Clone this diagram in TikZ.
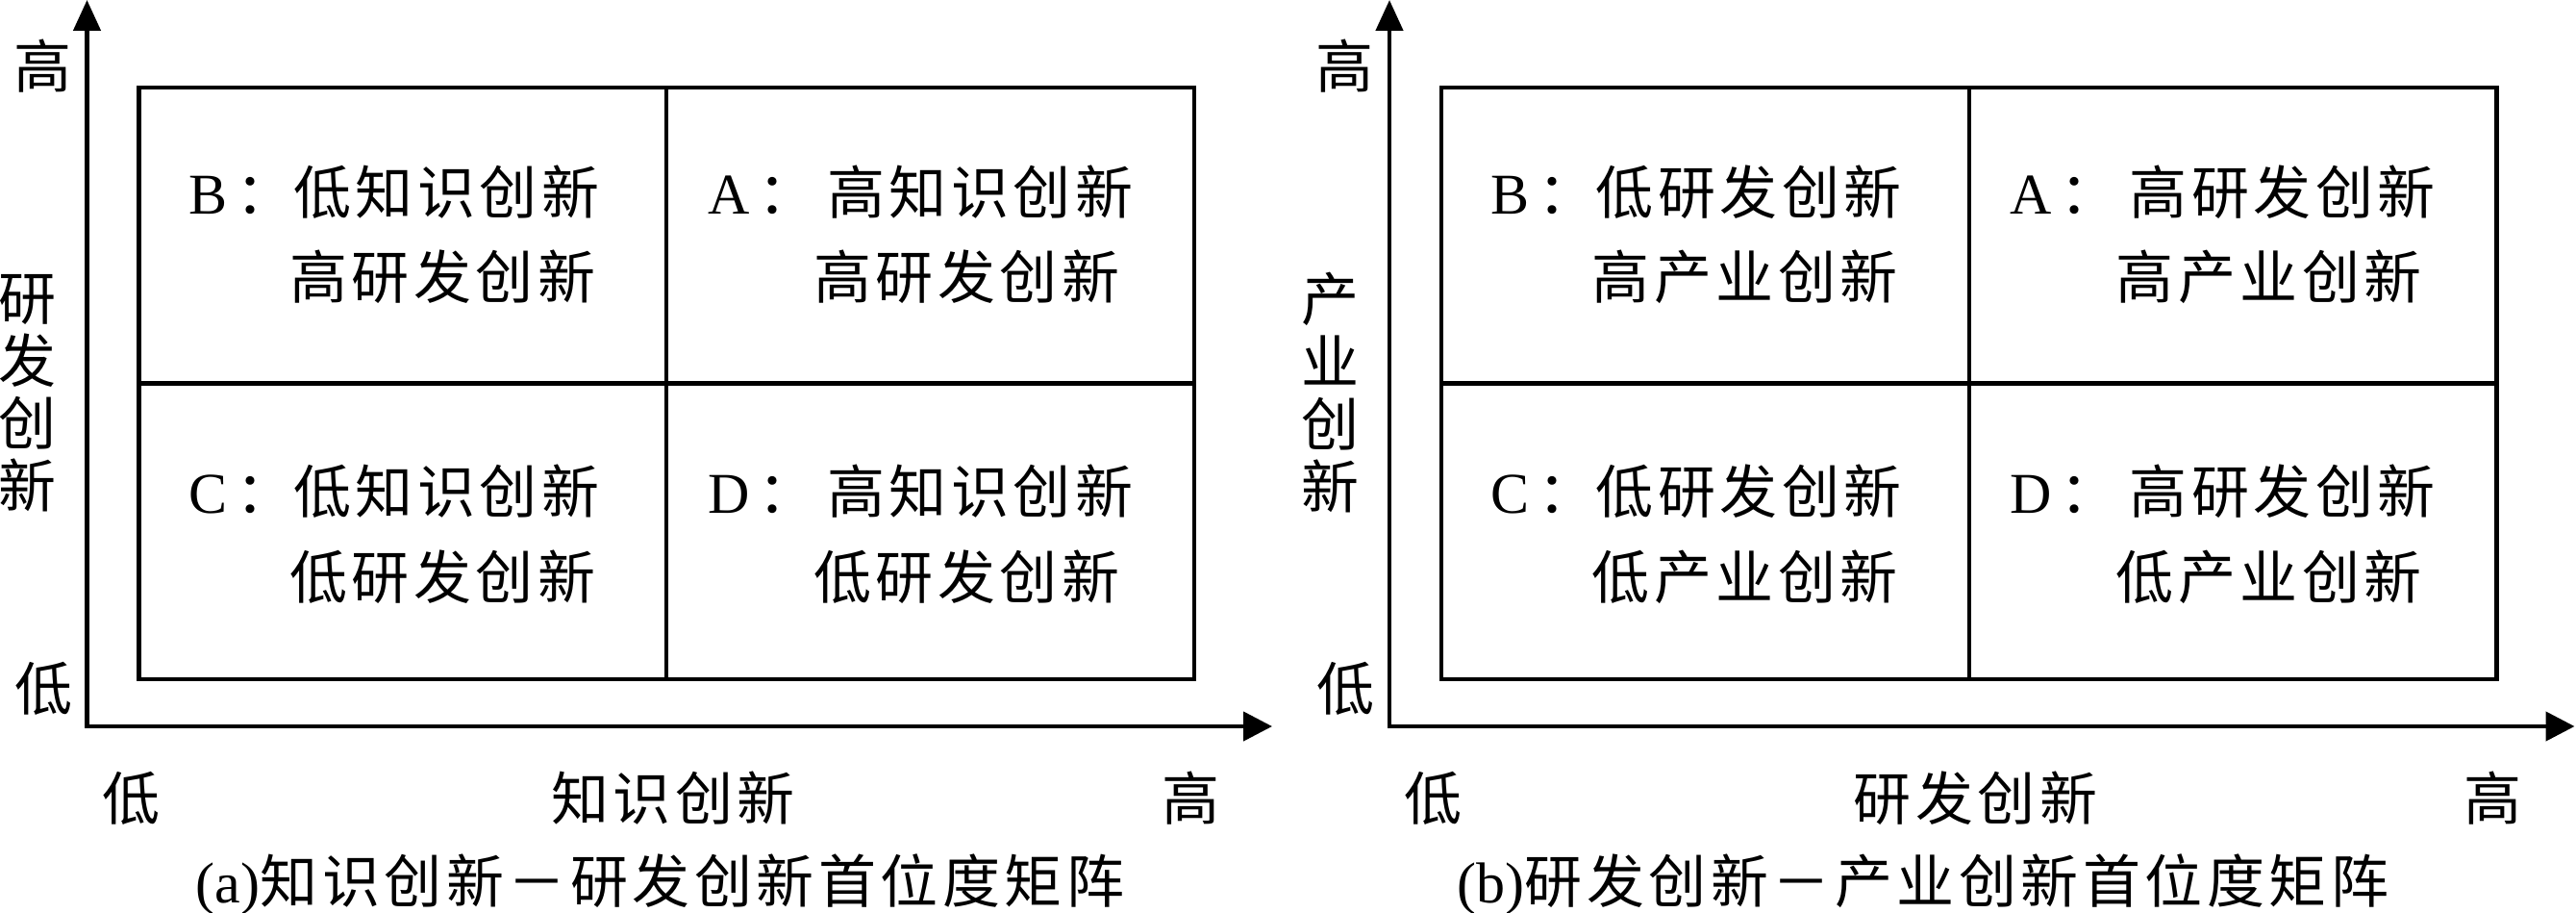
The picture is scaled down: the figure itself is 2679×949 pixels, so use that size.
\documentclass[tikz,border=0pt]{standalone}
\usepackage{fontspec}
\setmainfont{Liberation Serif}
\newfontfamily\cjk{Noto Sans CJK SC}
\usetikzlibrary{arrows.meta}
\newlength\chgap \setlength\chgap{4.5pt}
\def\chs#1{{\cjk\chsA#1\relax}}
\def\chsA#1{#1\chsB}
\def\chsB#1{\ifx#1\relax\else\kern\chgap#1\expandafter\chsB\fi}
\newcommand\qcolon{\kern9pt{\cjk ：}}
\tikzset{
  every node/.style={inner sep=0pt, outer sep=0pt},
  lat/.style={font=\fontsize{60pt}{65pt}\selectfont},
  cjkt/.style={font=\fontsize{60pt}{65pt}\selectfont\cjk},
  cell/.style={lat, anchor=base west},
  quad/.style={draw, line width=4.3pt, minimum width=1097.5pt, minimum height=615pt},
  divider/.style={line width=4.3pt},
  axis/.style={line width=4.5pt, line join=miter,
    {Triangle[length=32pt,width=28pt]}-{Triangle[length=30pt,width=30pt]}},
}
\begin{document}
\begin{tikzpicture}[x=1pt,y=-1pt]
\useasboundingbox (0,0) rectangle (2679,949);
% ---------- panel (a) ----------
\coordinate (ya) at (90.5,0);
\coordinate (oa) at (90.5,755);
\coordinate (xa) at (1323,755);
\draw[axis] (ya) -- (oa) -- (xa);
\node[quad] (qa) at (693.25,398.5) {};
\draw[divider] (qa.north) -- (qa.south);
\draw[divider] (qa.west) -- (qa.east);
\node[cell] (aBl) at (196,223) {B\qcolon};
\node[cell] (aB1) at (305,223) {\chs{低知识创新}};
\node[cell] (aB2) at (301,311) {\chs{高研发创新}};
\node[cell] (aAl) at (736,223) {A\qcolon};
\node[cell] (aA1) at (860,223) {\chs{高知识创新}};
\node[cell] (aA2) at (846,311) {\chs{高研发创新}};
\node[cell] (aCl) at (196,533) {C\qcolon};
\node[cell] (aC1) at (305,533) {\chs{低知识创新}};
\node[cell] (aC2) at (301,622) {\chs{低研发创新}};
\node[cell] (aDl) at (736,533) {D\qcolon};
\node[cell] (aD1) at (860,533) {\chs{高知识创新}};
\node[cell] (aD2) at (846,622) {\chs{低研发创新}};
\node[cjkt] (ayh) at (44,69) {高};
\node[cjkt] (ayl) at (45,716) {低};
\node[cjkt, align=center] (ayt) at (28.5,408.5) {研\\发\\创\\新};
\node[cjkt] (axl) at (136,830) {低};
\node[cjkt] (axt) at (700,830) {\chs{知识创新}};
\node[cjkt] (axh) at (1238,830) {高};
\node[lat, anchor=base] (capa) at (686.5,938) {(a)\chs{知识创新－研发创新首位度矩阵}};
% ---------- panel (b) ----------
\coordinate (yb) at (1445,0);
\coordinate (ob) at (1445,755);
\coordinate (xb) at (2677.5,755);
\draw[axis] (yb) -- (ob) -- (xb);
\node[quad] (qb) at (2047.75,398.5) {};
\draw[divider] (qb.north) -- (qb.south);
\draw[divider] (qb.west) -- (qb.east);
\node[cell] (bBl) at (1550.5,223) {B\qcolon};
\node[cell] (bB1) at (1659.5,223) {\chs{低研发创新}};
\node[cell] (bB2) at (1655.5,311) {\chs{高产业创新}};
\node[cell] (bAl) at (2090.5,223) {A\qcolon};
\node[cell] (bA1) at (2214.5,223) {\chs{高研发创新}};
\node[cell] (bA2) at (2200.5,311) {\chs{高产业创新}};
\node[cell] (bCl) at (1550.5,533) {C\qcolon};
\node[cell] (bC1) at (1659.5,533) {\chs{低研发创新}};
\node[cell] (bC2) at (1655.5,622) {\chs{低产业创新}};
\node[cell] (bDl) at (2090.5,533) {D\qcolon};
\node[cell] (bD1) at (2214.5,533) {\chs{高研发创新}};
\node[cell] (bD2) at (2200.5,622) {\chs{低产业创新}};
\node[cjkt] (byh) at (1398.5,69) {高};
\node[cjkt] (byl) at (1399.5,716) {低};
\node[cjkt, align=center] (byt) at (1383,408.5) {产\\业\\创\\新};
\node[cjkt] (bxl) at (1490.5,830) {低};
\node[cjkt] (bxt) at (2054.5,830) {\chs{研发创新}};
\node[cjkt] (bxh) at (2592.5,830) {高};
\node[lat, anchor=base] (capb) at (2000,938) {(b)\chs{研发创新－产业创新首位度矩阵}};
\end{tikzpicture}
\end{document}
